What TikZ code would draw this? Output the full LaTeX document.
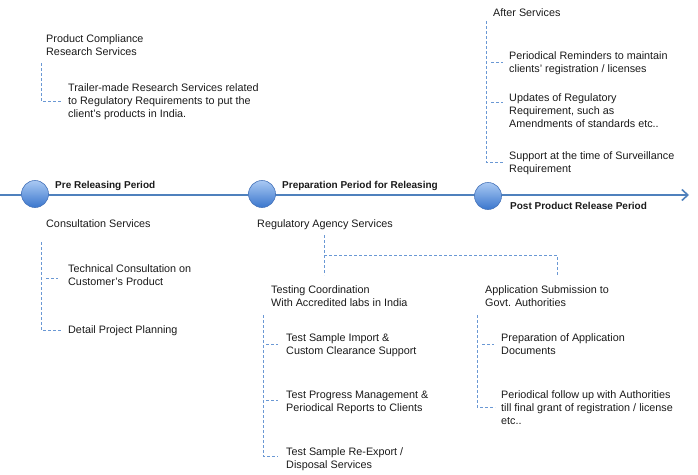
\documentclass[tikz,border=0pt]{standalone}
\usepackage{fontspec}
\setmainfont{Liberation Sans}
\usetikzlibrary{arrows.meta}
\definecolor{lineblue}{HTML}{4F81BD}
\definecolor{dashblue}{HTML}{6A98D4}
\definecolor{topb}{HTML}{A9C9F3}
\definecolor{botb}{HTML}{3A76CD}
\definecolor{edgeb}{HTML}{4774BA}
\definecolor{ink}{HTML}{1A1A1A}
\tikzset{
  txt/.style={font=\fontsize{10.8}{13}\selectfont, text=ink, inner sep=0pt, anchor=base west, align=left},
  per/.style={font=\bfseries\fontsize{10}{12}\selectfont, text=ink, inner sep=0pt, anchor=base west},
  dsh/.style={draw=dashblue, line width=0.8pt, dash pattern=on 3pt off 2pt},
  tl/.style={draw=lineblue, line width=1.6pt, -{Straight Barb[length=6pt,width=11pt]}},
  dot/.style={circle, minimum size=27pt, inner sep=0pt, draw=edgeb, line width=0.6pt, top color=topb, bottom color=botb}
}
\begin{document}
\begin{tikzpicture}[x=1pt,y=-1pt]
\useasboundingbox (0,0) rectangle (698,474);
% timeline
\coordinate (ls) at (0,195);
\coordinate (le) at (689,195);
\draw[tl] (ls) -- (le);
\node[dot] (c1) at (35,194) {};
\node[dot] (c2) at (262,194) {};
\node[dot] (c3) at (488,196) {};
\node[per] (p1) at (55,188) {Pre Releasing Period};
\node[per] (p2) at (282,188) {Preparation Period for Releasing};
\node[per] (p3) at (510,209) {Post Product Release Period};

% texts (anchor = baseline of the last line)
\node[txt] (pcr) at (46,55) {Product Compliance\\Research Services};
\node[txt] (trm) at (68,117) {Trailer-made Research Services related\\to Regulatory Requirements to put the\\client’s products in India.};
\node[txt] (cons) at (46,227) {Consultation Services};
\node[txt] (tech) at (68,285) {Technical Consultation on\\Customer’s Product};
\node[txt] (dpp) at (68,333) {Detail Project Planning};
\node[txt] (ras) at (257,227) {Regulatory Agency Services};
\node[txt] (tcw) at (271,306) {Testing Coordination\\With Accredited labs in India};
\node[txt] (asg) at (485,306) {Application Submission to\\Govt. Authorities};
\node[txt] (ts1) at (286,354) {Test Sample Import \&\\Custom Clearance Support};
\node[txt] (ts2) at (286,411) {Test Progress Management \&\\Periodical Reports to Clients};
\node[txt] (ts3) at (286,468) {Test Sample Re-Export /\\Disposal Services};
\node[txt] (ap1) at (501,354) {Preparation of Application\\Documents};
\node[txt] (ap2) at (501,424) {Periodical follow up with Authorities\\till final grant of registration / license\\etc..};
\node[txt] (aft) at (493,16) {After Services};
\node[txt] (af1) at (509,72) {Periodical Reminders to maintain\\clients’ registration / licenses};
\node[txt] (af2) at (509,127) {Updates of Regulatory\\Requirement, such as\\Amendments of standards etc..};
\node[txt] (af3) at (509,172) {Support at the time of Surveillance\\Requirement};

% connector coordinates
\coordinate (pcrT) at (41,63);
\coordinate (trmE) at (62,101);
\draw[dsh] (pcrT) |- (trmE);

\coordinate (consT) at (41,242);
\coordinate (techS) at (46,278);
\coordinate (techE) at (58,278);
\coordinate (dppE) at (61,330);
\draw[dsh] (consT) |- (dppE);
\draw[dsh] (techS) -- (techE);

\coordinate (aftT) at (486,21);
\coordinate (af1S) at (491,62);
\coordinate (af1E) at (503,62);
\coordinate (af2S) at (491,102);
\coordinate (af2E) at (503,102);
\coordinate (af3E) at (503,162);
\draw[dsh] (aftT) |- (af3E);
\draw[dsh] (af1S) -- (af1E);
\draw[dsh] (af2S) -- (af2E);

\coordinate (rasT) at (324,235);
\coordinate (tcwT) at (324,275);
\coordinate (asgT) at (557,275);
\coordinate (brk) at (324,255);
\draw[dsh] (rasT) -- (tcwT);
\draw[dsh] (brk) -| (asgT);

\coordinate (tcwB) at (263,315);
\coordinate (ts1S) at (266,344);
\coordinate (ts1E) at (278,344);
\coordinate (ts2S) at (266,400);
\coordinate (ts2E) at (278,400);
\coordinate (ts3E) at (278,456);
\draw[dsh] (tcwB) |- (ts3E);
\draw[dsh] (ts1S) -- (ts1E);
\draw[dsh] (ts2S) -- (ts2E);

\coordinate (asgB) at (477,315);
\coordinate (ap1S) at (482,344);
\coordinate (ap1E) at (494,344);
\coordinate (ap2E) at (495,407);
\draw[dsh] (asgB) |- (ap2E);
\draw[dsh] (ap1S) -- (ap1E);
\end{tikzpicture}
\end{document}
